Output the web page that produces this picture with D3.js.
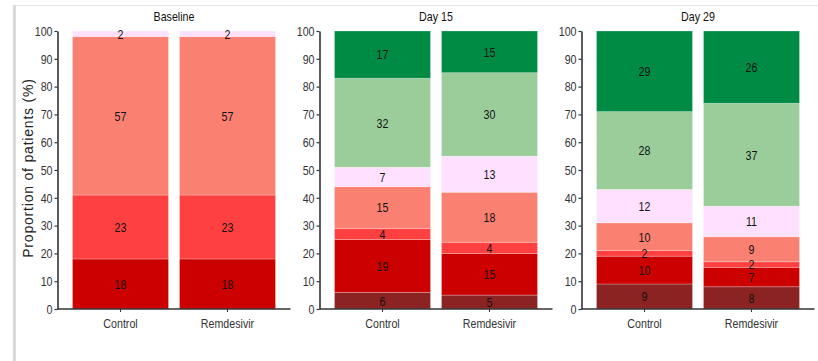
<!DOCTYPE html>
<html>
<head>
<meta charset="utf-8">
<script src="https://cdn.jsdelivr.net/npm/d3@7"></script>
<style>
  html, body { margin: 0; padding: 0; background: #fff; }
  svg { display: block; }
</style>
</head>
<body>
<svg id="chart" width="818" height="361"></svg>
<script>
// Time points shown as facets, and the two treatment arms
const timepoints = ["Baseline", "Day 15", "Day 29"];
const arms = ["Control", "Remdesivir"];

// Ordinal outcome levels, stacked from the bottom of each bar upwards
const levels = ["Death", "Ventilation/ECMO", "NIV or high-flow O2", "Low-flow O2",
                "Hospitalised, no O2", "Home, limitations", "Home, no limitations"];
const levelColors = ["#8B2323", "#CD0000", "#FF4040", "#FA8072", "#FFE1FF", "#9BCD9B", "#008B45"];

// Percentage of patients in each level (bottom to top)
const baselineControl    = [0, 18, 23, 57, 2, 0, 0];
const baselineRemdesivir = [0, 18, 23, 57, 2, 0, 0];
const day15Control       = [6, 19, 4, 15, 7, 32, 17];
const day15Remdesivir    = [5, 15, 4, 18, 13, 30, 15];
const day29Control       = [9, 10, 2, 10, 12, 28, 29];
const day29Remdesivir    = [8, 7, 2, 9, 11, 37, 26];

const yTicks = [0, 10, 20, 30, 40, 50, 60, 70, 80, 90, 100];

const seriesByPanel = [
  [baselineControl, baselineRemdesivir],
  [day15Control, day15Remdesivir],
  [day29Control, day29Remdesivir]
];

const svg = d3.select("#chart");
const W = 818, H = 361;
const sans = "'Liberation Sans', Arial, sans-serif";
const fs = 13.5;

// Card edge: soft shadow on the left and a hairline along the top
const defs = svg.append("defs");
const grad = defs.append("linearGradient").attr("id", "edge").attr("x1", 0).attr("x2", 1);
grad.append("stop").attr("offset", 0).attr("stop-color", "#ffffff");
grad.append("stop").attr("offset", 0.6).attr("stop-color", "#d0d0d0");
grad.append("stop").attr("offset", 1).attr("stop-color", "#e6e6e6");
svg.append("rect").attr("x", 12).attr("y", 5).attr("width", 4).attr("height", H - 5)
  .attr("fill", "url(#edge)");
svg.append("line").attr("x1", 15).attr("x2", W).attr("y1", 5.5).attr("y2", 5.5)
  .attr("stroke", "#e4e4e4").attr("stroke-width", 1);

// Shared vertical scale
const y = d3.scaleLinear().domain([0, 100]).range([309, 31]);

// Facet placement
const facet = d3.scaleBand().domain(timepoints).range([57.5, 57.5 + 262 * 3]).paddingInner(0);

const stack = d3.stack().keys(d3.range(levels.length)).value((d, k) => d[k]);

timepoints.forEach((tp, pi) => {
  const x0 = facet(tp);
  const g = svg.append("g");

  const x = d3.scaleBand().domain(arms).range([x0 + 15, x0 + 218]).paddingInner(0.1028).paddingOuter(0);

  const rows = seriesByPanel[pi];
  const stacked = stack(rows);

  // Stacked segments
  stacked.forEach((layer, li) => {
    layer.forEach((seg, ai) => {
      const v = seg[1] - seg[0];
      if (v <= 0) return;
      g.append("rect")
        .attr("x", x(arms[ai]))
        .attr("width", x.bandwidth())
        .attr("y", y(seg[1]))
        .attr("height", y(seg[0]) - y(seg[1]))
        .attr("fill", levelColors[li])
        .attr("stroke", "rgba(255,255,255,0.3)")
        .attr("stroke-width", 0.8);
    });
  });

  // Value labels centred in each segment
  stacked.forEach((layer, li) => {
    layer.forEach((seg, ai) => {
      const v = seg[1] - seg[0];
      if (v <= 0) return;
      g.append("text")
        .attr("class", "condensed")
        .attr("x", x(arms[ai]) + x.bandwidth() / 2)
        .attr("y", y((seg[0] + seg[1]) / 2))
        .attr("dy", "0.36em")
        .attr("text-anchor", "middle")
        .attr("font-family", sans)
        .attr("font-size", fs)
        .attr("fill", "#111")
        .text(v);
    });
  });

  // Y axis
  const yAxis = d3.axisLeft(y).tickValues(yTicks).tickSize(3).tickPadding(2).tickSizeOuter(0);
  const ya = g.append("g").attr("transform", `translate(${x0},0)`).call(yAxis);
  ya.select(".domain").attr("stroke", "#333").attr("stroke-width", 1.6);
  ya.selectAll(".tick line").attr("stroke", "#333").attr("stroke-width", 1.2);
  ya.selectAll(".tick text").attr("class", "condensed")
    .attr("font-family", sans).attr("font-size", fs).attr("fill", "#333");

  // X axis line with ticks under each bar
  const xAxis = d3.axisBottom(x).tickSize(3).tickPadding(6).tickSizeOuter(0);
  const xa = g.append("g").attr("transform", `translate(0,${y(0)})`).call(xAxis);
  xa.select(".domain").remove();
  xa.append("line").attr("x1", x0).attr("x2", x0 + 233)
    .attr("stroke", "#333").attr("stroke-width", 1.6);
  xa.selectAll(".tick line").attr("stroke", "#333").attr("stroke-width", 1);
  xa.selectAll(".tick text").attr("class", "condensed")
    .attr("font-family", sans).attr("font-size", fs).attr("fill", "#333");

  // Facet title
  g.append("text")
    .attr("class", "condensed")
    .attr("x", x0 + 116.5)
    .attr("y", 21)
    .attr("text-anchor", "middle")
    .attr("font-family", sans)
    .attr("font-size", fs)
    .attr("fill", "#111")
    .text(tp);
});

// Narrow typeface look: squeeze each label horizontally
svg.selectAll("text.condensed").each(function () {
  const w = this.getComputedTextLength();
  d3.select(this).attr("textLength", w * 0.79).attr("lengthAdjust", "spacingAndGlyphs");
});

// Y axis title
svg.append("text")
  .attr("transform", `translate(33,168) rotate(-90)`)
  .attr("text-anchor", "middle")
  .attr("font-family", sans)
  .attr("font-size", 14)
  .attr("letter-spacing", 0.8)
  .attr("fill", "#222")
  .text("Proportion of patients (%)");
</script>
</body>
</html>
